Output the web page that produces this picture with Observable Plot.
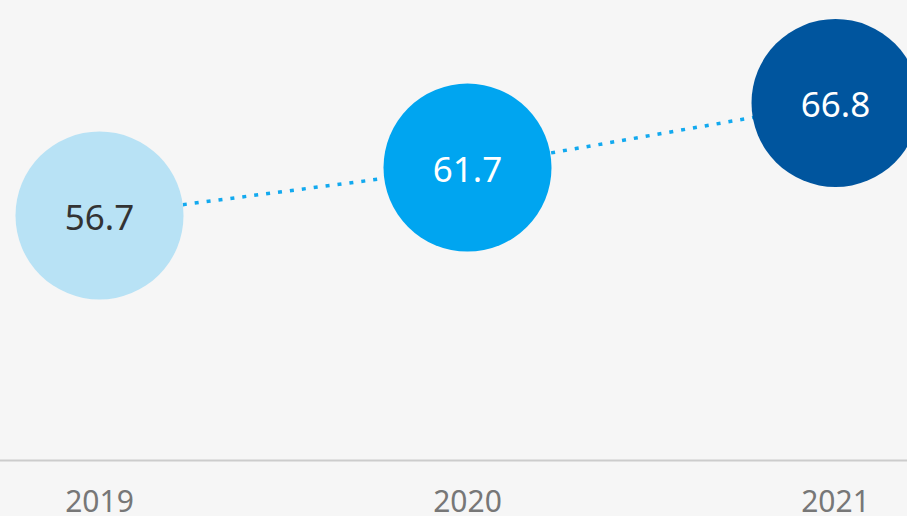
<!DOCTYPE html>
<html>
<head>
<meta charset="utf-8">
<script src="https://cdn.jsdelivr.net/npm/d3@7"></script>
<script src="https://cdn.jsdelivr.net/npm/@observablehq/plot@0.6"></script>
<style>
  html, body { margin: 0; padding: 0; background: #f6f6f6; overflow: hidden; }
</style>
</head>
<body>
<div id="chart"></div>
<script>
const years = ["2019", "2020", "2021"];
const values = [56.7, 61.7, 66.8];
const circleColors = ["#b8e2f5", "#00a5f0", "#00559e"];
const labelColors = ["#333333", "#ffffff", "#ffffff"];

const data = years.map((year, i) => ({ year, value: values[i], label: values[i].toFixed(1), textColor: labelColors[i] }));

const chart = Plot.plot({
  width: 907,
  height: 516,
  marginLeft: 0,
  marginRight: 0,
  marginTop: 0,
  marginBottom: 56,
  style: { background: "#f6f6f6", fontFamily: "Noto Sans, sans-serif", overflow: "hidden" },
  x: { type: "point", domain: years, range: [98, 835], padding: 0, label: null },
  y: { type: "pow", exponent: 4.4, domain: [56.7, 66.8], range: [215, 102.5], axis: null },
  color: { domain: years, range: circleColors },
  marks: [
    Plot.frame({ anchor: "bottom", stroke: "#cccccc", strokeWidth: 2 }),
    Plot.axisX({ tickSize: 0, tickPadding: 30, fontSize: 30, fill: "#777777", label: null }),
    Plot.line(data, { x: "year", y: "value", stroke: "#12a9ef", strokeWidth: 3.5, strokeDasharray: "4,8", strokeLinecap: "butt" }),
    Plot.dot(data, { x: "year", y: "value", r: 84, fill: "year", stroke: "none" }),
    Plot.text(data.filter(d => d.textColor === "#333333"), { x: "year", y: "value", text: "label", fill: "#333333", fontSize: 35, dy: 3 }),
    Plot.text(data.filter(d => d.textColor === "#ffffff"), { x: "year", y: "value", text: "label", fill: "#ffffff", fontSize: 35, dy: 3 })
  ]
});
document.getElementById("chart").append(chart);
</script>
</body>
</html>
